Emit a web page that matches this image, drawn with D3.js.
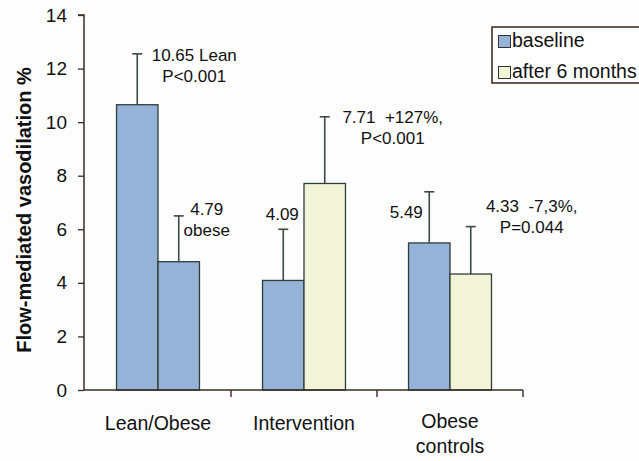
<!DOCTYPE html>
<html>
<head>
<meta charset="utf-8">
<script src="https://cdn.jsdelivr.net/npm/d3@7"></script>
<style>
  html, body { margin: 0; padding: 0; background: #fdfdfd; }
  svg { display: block; font-family: "Liberation Sans", Arial, sans-serif; }
</style>
</head>
<body>
<svg id="chart" width="639" height="461"></svg>
<script>
// ---- data ----
const categories = ["Lean/Obese", "Intervention", "Obese controls"];
const categoryLines = [["Lean/Obese"], ["Intervention"], ["Obese", "controls"]];
const seriesNames = ["baseline", "after 6 months"];
const meanValues = [
  [10.65, 4.79],
  [4.09, 7.71],
  [5.49, 4.33]
];
const errorTops = [
  [12.55, 6.5],
  [6.0, 10.2],
  [7.4, 6.1]
];
// fill of each bar: index into the legend series (Lean/Obese are both baseline)
const barFillSeries = [
  [0, 0],
  [0, 1],
  [0, 1]
];
const yTicks = [0, 2, 4, 6, 8, 10, 12, 14];
const annotationTexts = [
  ["10.65 Lean", "P<0.001"],
  ["4.79", "obese"],
  ["4.09"],
  ["7.71  +127%,", "P<0.001"],
  ["5.49"],
  ["4.33  -7,3%,", "P=0.044"]
];
// which bar each annotation belongs to: [category index, series index]
const annotationBars = [[0, 0], [0, 1], [1, 0], [1, 1], [2, 0], [2, 1]];
// annotation anchor height, in data units
const annotationLevels = [12.28, 6.53, 6.35, 9.97, 6.42, 6.65];

// ---- layout ----
const svg = d3.select("#chart");
const mLeft = 84, mRight = 523, mTop = 15, mBottom = 390;
const colors = ["#95b3d7", "#f2f4d8"];
const barStroke = "#2f3d3a";
const axisColor = "#3a2a22";
const errColor = "#3b4a42";

const x = d3.scaleBand().domain(categories).range([mLeft + 1, mRight]).paddingInner(0).paddingOuter(0);
const xs = d3.scaleBand().domain(seriesNames).range([0, x.bandwidth()]).paddingInner(0).paddingOuter(0.76);
const y = d3.scaleLinear().domain([0, 14]).range([mBottom, mTop]);

// bars
const groups = svg.append("g").selectAll("g")
  .data(categories)
  .join("g")
  .attr("transform", d => `translate(${x(d)},0)`);

groups.each(function (cat, ci) {
  const g = d3.select(this);
  seriesNames.forEach((s, si) => {
    const v = meanValues[ci][si];
    const cx = xs(s) + xs.bandwidth() / 2;
    g.append("line")
      .attr("x1", cx).attr("x2", cx)
      .attr("y1", y(v)).attr("y2", y(errorTops[ci][si]))
      .attr("stroke", errColor).attr("stroke-width", 1.6);
    g.append("line")
      .attr("x1", cx - 5).attr("x2", cx + 5)
      .attr("y1", y(errorTops[ci][si])).attr("y2", y(errorTops[ci][si]))
      .attr("stroke", errColor).attr("stroke-width", 1.6);
    g.append("rect")
      .attr("x", xs(s))
      .attr("y", y(v))
      .attr("width", xs.bandwidth())
      .attr("height", y(0) - y(v))
      .attr("fill", colors[barFillSeries[ci][si]])
      .attr("stroke", barStroke)
      .attr("stroke-width", 1.3);
  });
});

// y axis
const yAxis = d3.axisLeft(y).tickValues(yTicks).tickSize(6).tickPadding(11).tickFormat(d3.format("d"));
const ya = svg.append("g").attr("transform", `translate(${mLeft},0)`).call(yAxis);
ya.select(".domain").attr("stroke", axisColor).attr("stroke-width", 1.5).attr("d", `M-6,${mTop}H0V${mBottom}`);
ya.selectAll(".tick line").attr("stroke", axisColor).attr("stroke-width", 1.3);
ya.selectAll(".tick text").attr("font-size", 19).attr("fill", "#111").attr("font-family", "Liberation Sans, Arial, sans-serif");

// x axis
const xa = svg.append("g");
xa.append("line")
  .attr("x1", mLeft).attr("x2", mRight).attr("y1", mBottom).attr("y2", mBottom)
  .attr("stroke", axisColor).attr("stroke-width", 1.5);
xa.selectAll("line.tk")
  .data(categories)
  .join("line")
  .attr("class", "tk")
  .attr("x1", d => x(d) + x.bandwidth()).attr("x2", d => x(d) + x.bandwidth())
  .attr("y1", mBottom).attr("y2", mBottom + 7)
  .attr("stroke", axisColor).attr("stroke-width", 1.4);
xa.selectAll("text.cat")
  .data(categories)
  .join("text")
  .attr("class", "cat")
  .attr("text-anchor", "middle")
  .attr("font-size", 19.5)
  .attr("fill", "#111")
  .each(function (d, i) {
    const t = d3.select(this);
    categoryLines[i].forEach((ln, li) => {
      t.append("tspan")
        .attr("x", x(d) + x.bandwidth() / 2)
        .attr("y", (categoryLines[i].length > 1 ? 428 : 430) + li * 25)
        .text(ln);
    });
  });

// y title
svg.append("text")
  .attr("transform", `translate(31,210) rotate(-90)`)
  .attr("text-anchor", "middle")
  .attr("font-size", 20)
  .attr("font-weight", "bold")
  .attr("fill", "#111")
  .text("Flow-mediated vasodilation %");

// annotations
const annDx = [57, 28, -1, 68, -23, 61];
annotationTexts.forEach((lines, i) => {
  const [ci, si] = annotationBars[i];
  const cx = x(categories[ci]) + xs(seriesNames[si]) + xs.bandwidth() / 2 + annDx[i];
  const t = svg.append("text")
    .attr("text-anchor", "middle")
    .attr("font-size", 17)
    .attr("fill", "#111")
    .style("white-space", "pre");
  lines.forEach((ln, li) => {
    t.append("tspan")
      .attr("x", cx)
      .attr("y", y(annotationLevels[i]) + li * 21)
      .text(ln);
  });
});

// legend
const lg = svg.append("g");
lg.append("rect")
  .attr("x", 492).attr("y", 27).attr("width", 160).attr("height", 56)
  .attr("fill", "#fff").attr("stroke", "#3a2218").attr("stroke-width", 1.5);
seriesNames.forEach((s, i) => {
  lg.append("rect")
    .attr("x", 498.5).attr("y", 35.5 + i * 31).attr("width", 12).attr("height", 12)
    .attr("fill", colors[i]).attr("stroke", "#333").attr("stroke-width", 1);
  lg.append("text")
    .attr("x", 512).attr("y", 47 + i * 31)
    .attr("font-size", 19.5)
    .attr("fill", "#111")
    .text(s);
});
</script>
</body>
</html>
